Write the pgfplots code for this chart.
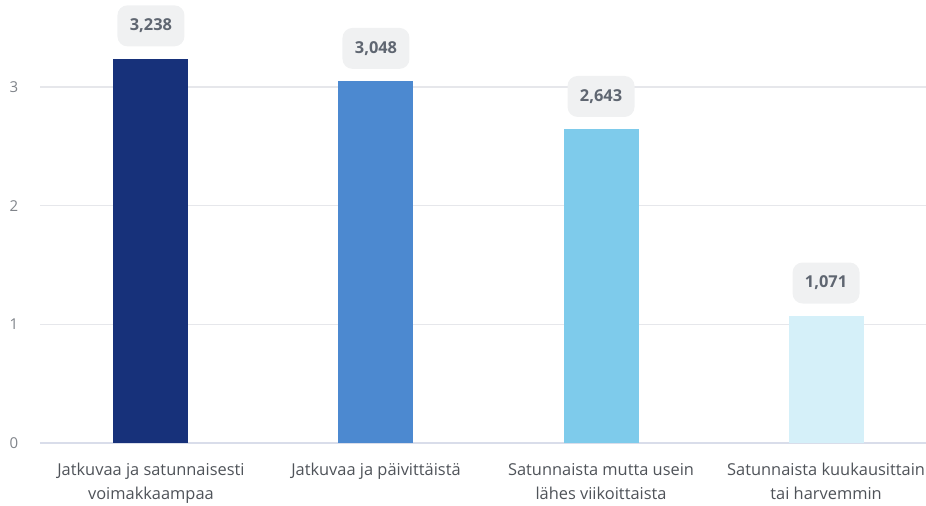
\documentclass[border=0pt]{standalone}
\usepackage{fontspec}
\setmainfont{Open Sans}
\usepackage{pgfplots}
\pgfplotsset{compat=1.18}
\usetikzlibrary{calc}
\definecolor{barnavy}{HTML}{17317A}
\definecolor{barblue}{HTML}{4C89D0}
\definecolor{barsky}{HTML}{7ECBEB}
\definecolor{barpale}{HTML}{D5F0F9}
\definecolor{gridc}{HTML}{E6E7EB}
\definecolor{axisc}{HTML}{D9DDEA}
\definecolor{labelc}{HTML}{4F5359}
\definecolor{tickc}{HTML}{80848A}
\definecolor{boxc}{HTML}{F0F1F2}
\definecolor{valc}{HTML}{5F6671}

\begin{document}
\begin{tikzpicture}
\begin{axis}[
  name=ax,
  scale only axis,
  width=443pt, height=221.5pt,
  xmin=-0.493, xmax=3.444,
  ymin=0, ymax=3.733,
  enlargelimits=false,
  ybar, bar width=37.5pt, bar shift=0pt,
  axis lines*=left,
  y axis line style={draw=none},
  x axis line style={draw=axisc, line width=0.8pt},
  major tick length=0pt,
  ytick={0,1,2,3},
  ymajorgrids,
  grid style={draw=gridc, line width=0.6pt},
  xtick={0,1,2,3},
  xticklabels={{Jatkuvaa ja satunnaisesti\\voimakkaampaa},
               {Jatkuvaa ja päivittäistä},
               {Satunnaista mutta usein\\lähes viikoittaista},
               {Satunnaista kuukausittain\\tai harvemmin}},
  xticklabel style={align=center, text=labelc, yshift=-6.5pt,
                    font=\fontsize{8.2}{12}\selectfont},
  yticklabel style={anchor=center, xshift=-13pt, text=tickc,
                    font=\fontsize{7.5}{9}\selectfont},
  /pgf/number format/assume math mode=true,
  nodes near coords,
  nodes near coords style={
    anchor=south, yshift=6pt, fill=boxc, rounded corners=5pt,
    minimum width=33.5pt, minimum height=20.5pt, inner sep=0pt,
    text=valc, font=\fontsize{8.2}{9}\selectfont\bfseries,
    /pgf/number format/.cd, fixed, fixed zerofill, precision=3, use comma,
    1000 sep={}},
]
\addplot[fill=barnavy, draw=none] coordinates {(0,3.238)};
\addplot[fill=barblue, draw=none] coordinates {(1,3.048)};
\addplot[fill=barsky, draw=none] coordinates {(2,2.643)};
\addplot[fill=barpale, draw=none] coordinates {(3,1.071)};
\end{axis}
\pgfresetboundingbox
\path ($(ax.south west)+(-20pt,-31pt)$) rectangle (ax.north east);
\end{tikzpicture}
\end{document}
